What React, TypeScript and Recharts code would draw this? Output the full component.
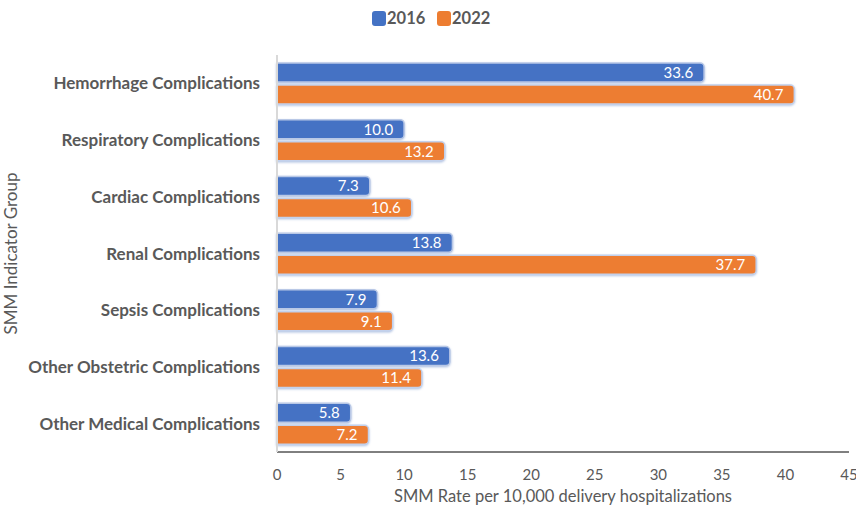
import React from 'react';
import { BarChart, Bar, XAxis, YAxis, LabelList } from 'recharts';

const categories = [
  'Hemorrhage Complications',
  'Respiratory Complications',
  'Cardiac Complications',
  'Renal Complications',
  'Sepsis Complications',
  'Other Obstetric Complications',
  'Other Medical Complications',
];
const values2016 = [33.6, 10.0, 7.3, 13.8, 7.9, 13.6, 5.8];
const values2022 = [40.7, 13.2, 10.6, 37.7, 9.1, 11.4, 7.2];
const xTicks = [0, 5, 10, 15, 20, 25, 30, 35, 40, 45];
const seriesNames = ['2016', '2022'];
const colors = ['#4472C4', '#ED7D31'];

const data = categories.map((name, i) => ({ name, y2016: values2016[i], y2022: values2022[i] }));

const FONT = 'Lato, "Open Sans", sans-serif';
const GRAY = '#595959';

const fmt = (v: any) => Number(v).toFixed(1);

const Legend = () => (
  <g>
    <rect x={372} y={11} width={14} height={15} rx={3} fill={colors[0]} />
    <text x={387} y={24} fontFamily={FONT} fontSize={16.5} fontWeight={700} fill={GRAY}>{seriesNames[0]}</text>
    <rect x={437} y={11} width={14} height={15} rx={3} fill={colors[1]} />
    <text x={452} y={24} fontFamily={FONT} fontSize={16.5} fontWeight={700} fill={GRAY}>{seriesNames[1]}</text>
  </g>
);

export default function App() {
  return (
    <div style={{ position: 'absolute', left: 0, top: 0, width: 856, height: 506, background: '#fff' }}>
      <BarChart
        width={856}
        height={506}
        data={data}
        layout="vertical"
        margin={{ top: 55, right: 7, bottom: 0, left: 0 }}
        barSize={19}
        barGap={3}
      >
        <defs>
          <filter id="glow" x="-5%" y="-30%" width="110%" height="160%">
            <feDropShadow dx="0" dy="1" stdDeviation="1.2" floodColor="#a9bde0" floodOpacity="0.9" />
          </filter>
        </defs>
        <XAxis
          type="number"
          domain={[0, 45]}
          ticks={xTicks}
          interval={0}
          height={54}
          axisLine={{ stroke: '#000', strokeWidth: 1 }}
          tickLine={false}
          tick={{ fill: GRAY, fontSize: 15, fontFamily: FONT }}
          tickMargin={11}
          label={{ value: 'SMM Rate per 10,000 delivery hospitalizations', position: 'insideBottom', offset: 4, fill: GRAY, fontSize: 16.5, fontFamily: FONT }}
        />
        <YAxis
          type="category"
          dataKey="name"
          width={277}
          axisLine={{ stroke: '#d9d9d9', strokeWidth: 2 }}
          tickLine={false}
          tick={{ fill: GRAY, fontSize: 17, fontWeight: 700, fontFamily: FONT }}
          tickMargin={11}
          label={{ value: 'SMM Indicator Group', angle: -90, position: 'insideLeft', offset: 11, fill: GRAY, fontSize: 17, fontFamily: FONT, style: { textAnchor: 'middle' } }}
        />
        <Bar dataKey="y2016" name={seriesNames[0]} fill={colors[0]} stroke="#b9c8e6" strokeWidth={1.5} radius={[0, 4, 4, 0]} isAnimationActive={false} style={{ filter: 'url(#glow)' }}>
          <LabelList dataKey="y2016" position="insideRight" offset={11} fill="#fff" fontSize={15} fontFamily={FONT} formatter={fmt} />
        </Bar>
        <Bar dataKey="y2022" name={seriesNames[1]} fill={colors[1]} stroke="#c3d1ec" strokeWidth={1.5} radius={[0, 4, 4, 0]} isAnimationActive={false} style={{ filter: 'url(#glow)' }}>
          <LabelList dataKey="y2022" position="insideRight" offset={11} fill="#fff" fontSize={15} fontFamily={FONT} formatter={fmt} />
        </Bar>
        <Legend />
      </BarChart>
    </div>
  );
}
